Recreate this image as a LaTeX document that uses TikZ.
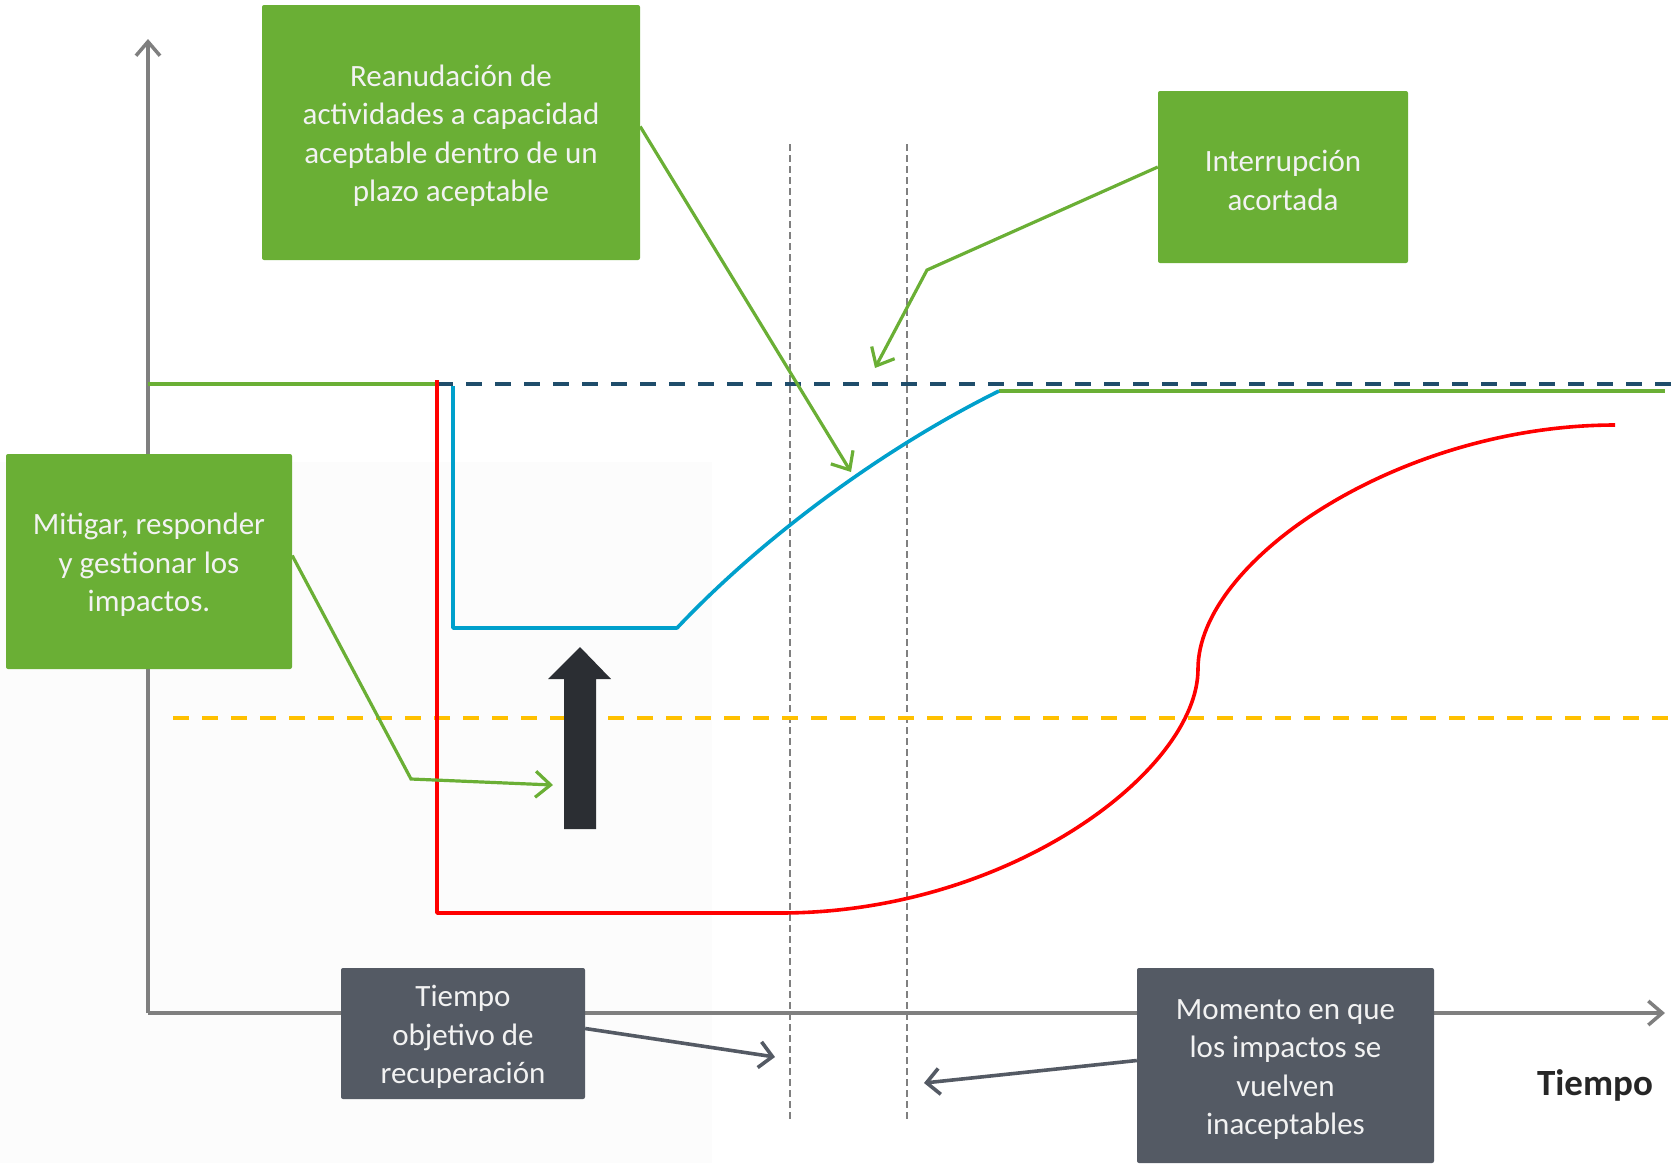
\documentclass[tikz,border=0pt]{standalone}
\usepackage{fontspec}
\setmainfont{Carlito}
\usetikzlibrary{arrows.meta}
\definecolor{boxgreen}{RGB}{106,175,53}
\definecolor{boxtext}{RGB}{242,242,242}
\definecolor{boxdark}{RGB}{84,90,100}
\definecolor{navy}{RGB}{31,77,107}
\definecolor{curveblue}{RGB}{0,160,204}
\definecolor{curvered}{RGB}{255,0,0}
\definecolor{limityellow}{RGB}{255,192,0}
\definecolor{axisgrey}{RGB}{127,127,127}
\definecolor{dotgrey}{RGB}{128,128,128}
\definecolor{bigarrow}{RGB}{43,46,51}
\definecolor{faintbg}{RGB}{252,252,252}
\definecolor{labeldark}{RGB}{38,38,38}
\newcommand{\toppad}{\rule{0pt}{28pt}}
\tikzset{
  gbox/.style={fill=boxgreen, rounded corners=2pt, inner sep=0pt, align=center,
    text=boxtext, font=\fontsize{31}{38.4}\selectfont},
  dbox/.style={fill=boxdark, rounded corners=2pt, inner sep=0pt, align=center,
    text=boxtext, font=\fontsize{31}{38.4}\selectfont},
  gconn/.style={draw=boxgreen, line width=3.2pt, line join=miter,
    -{Straight Barb[length=15pt,width=26pt,line width=3.2pt]}},
  dconn/.style={draw=boxdark, line width=3.6pt,
    -{Straight Barb[length=13pt,width=26pt,line width=3.6pt]}},
  axisline/.style={draw=axisgrey, line width=3.5pt,
    -{Straight Barb[length=14pt,width=24pt,line width=3.5pt]}},
  vguide/.style={draw=dotgrey, line width=2pt, dash pattern=on 7pt off 4pt},
  levelline/.style={line width=3.8pt, dash pattern=on 16pt off 13pt},
  curve/.style={line width=3.6pt, line join=round}
}
\begin{document}
\begin{tikzpicture}[x=1pt, y=-1pt]
\useasboundingbox (0,0) rectangle (1671,1163);
% faint background panel
\fill[faintbg] (0,462) rectangle (712,1163);

% axes
\coordinate (origin) at (148,1013);
\coordinate (ytop) at (148,39);
\coordinate (xend) at (1665,1013);
\draw[axisline] (origin) -- (ytop);
\draw[axisline] (origin) -- (xend);

% vertical guides
\coordinate (g1t) at (790,144); \coordinate (g1b) at (790,1121);
\coordinate (g2t) at (907,144); \coordinate (g2b) at (907,1121);
\draw[vguide] (g1t) -- (g1b);
\draw[vguide] (g2t) -- (g2b);

% levels
\coordinate (nstart) at (437,384); \coordinate (nend) at (1671,384);
\draw[levelline, draw=navy] (nstart) -- (nend);
\coordinate (ystart) at (173,718); \coordinate (yend) at (1671,718);
\draw[levelline, draw=limityellow] (ystart) -- (yend);

% green normal level
\coordinate (gl0) at (148,384);
\draw[draw=boxgreen, line width=4pt] (gl0) -- (nstart);
\coordinate (gr0) at (999,391); \coordinate (gr1) at (1665,391);
\draw[draw=boxgreen, line width=4pt] (gr0) -- (gr1);

% red curve
\coordinate (r0) at (437,380);
\coordinate (r1) at (437,913);
\coordinate (r2) at (780,913);
\coordinate (r3) at (1198,669);
\coordinate (r4) at (1615,425);
\draw[curve, draw=curvered] (r0) -- (r1) -- (r2)
  .. controls (1010,913) and (1198,770) .. (r3)
  .. controls (1198,560) and (1400,425) .. (r4);

% blue curve
\coordinate (b0) at (453,386);
\coordinate (b1) at (453,628);
\coordinate (b2) at (677,628);
\draw[curve, draw=curveblue] (b0) -- (b1) -- (b2)
  .. controls (760,540) and (880,450) .. (gr0);

% big black arrow
\fill[bigarrow] (564,829) -- (596,829) -- (596,679) -- (611,679) -- (580,647)
  -- (548,679) -- (564,679) -- cycle;

% boxes
\node[gbox, minimum width=378pt, minimum height=255pt] (reanud) at (451,132.5)
  {\toppad Reanudación de\\actividades a capacidad\\aceptable dentro de un\\plazo aceptable};
\node[gbox, minimum width=250pt, minimum height=172pt] (interr) at (1283,177)
  {\toppad Interrupción\\acortada};
\node[gbox, minimum width=286pt, minimum height=215pt] (mitig) at (149,561.5)
  {\toppad Mitigar, responder\\y gestionar los\\impactos.};
\node[dbox, minimum width=244pt, minimum height=131pt] (rto) at (463,1033.5)
  {\toppad Tiempo\\objetivo de\\recuperación};
\node[dbox, minimum width=297pt, minimum height=195pt] (moment) at (1285.5,1065.5)
  {\toppad Momento en que\\los impactos se\\vuelven\\inaceptables};
\node[anchor=base, inner sep=0pt, text=labeldark,
  font=\fontsize{37}{44}\selectfont\bfseries] (tiempo) at (1595,1095) {Tiempo};

% connectors
\coordinate (t1) at (851,472);
\draw[gconn] ([yshift=6pt]reanud.east) -- (t1);
\coordinate (e2) at (927,270);
\coordinate (t2) at (875,368);
\draw[gconn] ([yshift=10pt]interr.west) -- (e2) -- (t2);
\coordinate (e3) at (411,779);
\coordinate (t3) at (553,785);
\draw[gconn] ([yshift=6pt]mitig.east) -- (e3) -- (t3);
\coordinate (t4) at (775,1057);
\draw[dconn] ([yshift=5pt]rto.east) -- (t4);
\coordinate (t5) at (924,1083);
\draw[dconn] ([yshift=5pt]moment.west) -- (t5);
\end{tikzpicture}
\end{document}
